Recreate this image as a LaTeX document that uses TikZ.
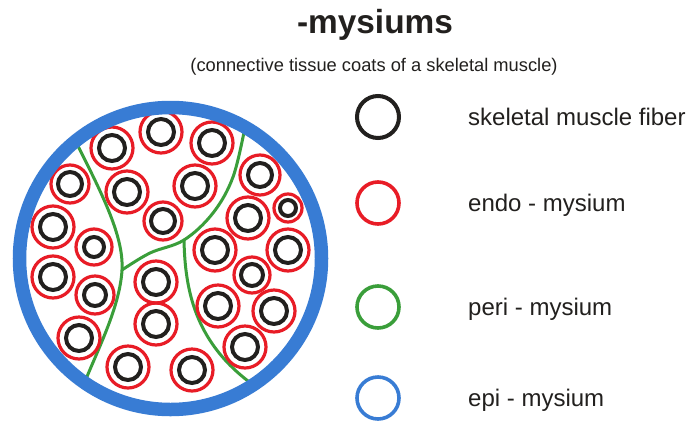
\documentclass[tikz,border=0pt]{standalone}
\usepackage{fontspec}
\setmainfont{Liberation Sans}
\usepackage{tikz}
\usetikzlibrary{positioning}

\definecolor{epiblue}{RGB}{56,124,212}
\definecolor{endored}{RGB}{232,28,38}
\definecolor{perigreen}{RGB}{58,158,58}
\definecolor{fiberblack}{RGB}{34,32,30}

\tikzset{
	fiber/.style={draw=fiberblack, line width=4pt},
	endo/.style={draw=endored, line width=3.2pt},
	peri/.style={draw=perigreen, line width=3pt, line cap=round},
	epi/.style={draw=epiblue, line width=13.5pt},
	legring/.style={circle, minimum size=42pt, inner sep=0pt, line width=3.6pt},
	legtext/.style={font=\fontsize{24}{28}\selectfont, text=fiberblack, anchor=base west, inner sep=0pt}
}

\begin{document}
\begin{tikzpicture}[x=1pt, y=-1pt]
	\useasboundingbox[fill=white] (0,0) rectangle (692,426);

	% heading
	\node[font=\fontsize{33.4}{38}\selectfont\bfseries, text=fiberblack, anchor=base, inner sep=0pt] (title) at (375,33) {-mysiums};
	\node[font=\fontsize{18.3}{22}\selectfont, text=fiberblack, anchor=base, inner sep=0pt] (subtitle) at (374,71) {(connective tissue coats of a skeletal muscle)};

	% perimysium partitions
	\coordinate (jl) at (122,270);
	\coordinate (jr) at (184,240);
	\draw[peri] (74,138) .. controls (100,190) and (124,235) .. (jl)
		.. controls (120,305) and (100,345) .. (86,379);
	\draw[peri] plot[smooth, tension=0.6] coordinates {(jl) (150,253) (jr) (213,213) (233,177) (245,127)};
	\draw[peri] (jr) .. controls (185,290) and (195,340) .. (248,381);

	% fibers: x / y / endomysium radius / fiber radius
	\foreach \x/\y/\re/\rf in {
		112/148/21/13, 161/132/21/13, 212/143/21/13,
		70/184/19/12, 127/192/21/13, 195/186/21/13, 260/175/20/12,
		288/208/14/8, 163/221/19/12, 53/227/21/13, 248/218/21/13,
		94/247/18/10, 215/250/21/13, 288/250/21/13,
		53/277/21/13, 252/275/18/11, 156/282/21/13, 95/295/19/11,
		218/306/21/13, 274/311/21/13, 156/324/21/13,
		79/338/21/13, 245/347/21/13, 128/367/21/13, 192/370/21/13}
	{
		\draw[endo] (\x,\y) circle (\re);
		\draw[fiber] (\x,\y) circle (\rf);
	}

	% epimysium
	\draw[epi] (170.5,258.5) circle (151);

	% legend
	\node[legring, draw=fiberblack, line width=4pt] (lfiber) at (378,117) {};
	\node[legring, draw=endored] (lendo) at (378,203) {};
	\node[legring, draw=perigreen] (lperi) at (378,307) {};
	\node[legring, draw=epiblue] (lepi) at (378,398) {};

	\node[legtext] (tfiber) at ([xshift=90pt, yshift=-8.5pt]lfiber.center) {skeletal muscle fiber};
	\node[legtext] (tendo) at ([xshift=90pt, yshift=-8.5pt]lendo.center) {endo - mysium};
	\node[legtext] (tperi) at ([xshift=90pt, yshift=-8.5pt]lperi.center) {peri - mysium};
	\node[legtext] (tepi) at ([xshift=90pt, yshift=-8.5pt]lepi.center) {epi - mysium};
\end{tikzpicture}
\end{document}
